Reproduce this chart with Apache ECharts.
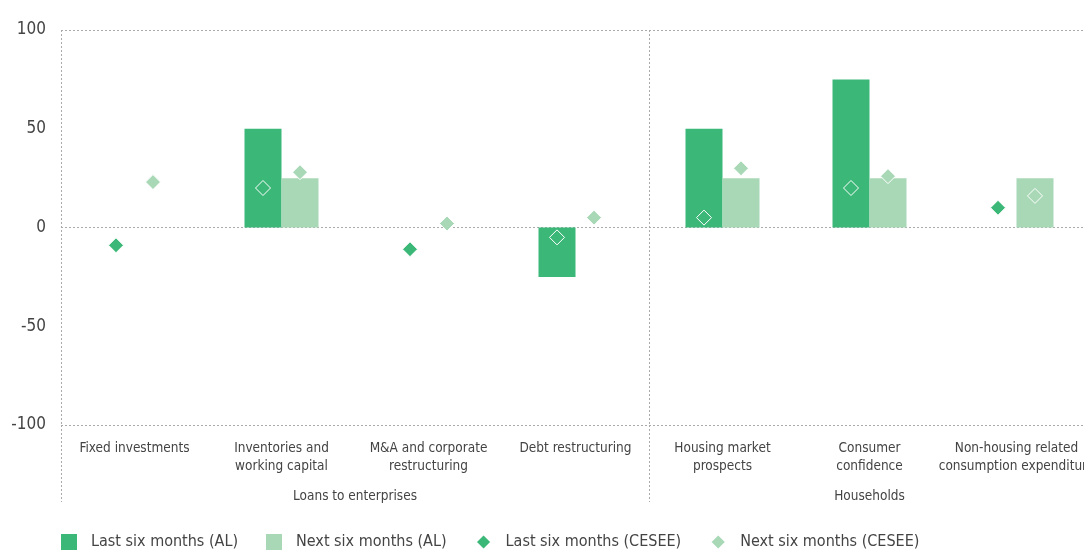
<!DOCTYPE html>
<html>
<head>
<meta charset="utf-8">
<script src="https://cdn.jsdelivr.net/npm/echarts@6/dist/echarts.min.js"></script>
<style>
  html, body { margin: 0; padding: 0; background: #fff; }
  #chart { width: 1084px; height: 554px; }
</style>
</head>
<body>
<div id="chart"></div>
<script>
// Categories and groups
const categories = [
    'Fixed investments',
    'Inventories and\nworking capital',
    'M&A and corporate\nrestructuring',
    'Debt restructuring',
    'Housing market\nprospects',
    'Consumer\nconfidence',
    'Non-housing related\nconsumption expenditure'
];
const groupNames = ['Loans to enterprises', 'Households'];
const groupCenters = [2, 5.5];   // in category units (0..7)
const groupBounds = [0, 4];      // category boundaries with a divider line

// Series values
const lastAL = [null, 50, null, -25, 50, 75, null];
const nextAL = [null, 25, null, null, 25, 25, 25];
const lastCESEE = [-9, 20, -11, -5, 5, 20, 10];
const nextCESEE = [23, 28, 2, 5, 30, 26, 16];

const FONT = "'DejaVu Sans Condensed', 'Liberation Sans Narrow', sans-serif";
const DARK = '#3bb878';
const LIGHT = '#a8d8b6';
const TEXT = '#444444';
const GRIDLINE = { color: '#aaaaaa', type: [2, 2], width: 1 };

const chart = echarts.init(document.getElementById('chart'));

const diamond = (name, data, color, offset) => ({
    name,
    type: 'scatter',
    data,
    symbol: 'diamond',
    symbolSize: 15,
    symbolOffset: [offset, 0],
    z: 5,
    itemStyle: { color, opacity: 1, borderColor: '#ffffff', borderWidth: 1 }
});

chart.setOption({
    animation: false,
    textStyle: { fontFamily: FONT },
    grid: { left: 61, right: -6, top: 30, bottom: 129, outerBoundsMode: 'none' },
    legend: {
        left: 56,
        top: 528,
        itemWidth: 16,
        itemHeight: 16,
        itemGap: 28,
        textStyle: { fontFamily: FONT, fontSize: 16, color: TEXT, padding: [0, 0, 0, 9] },
        data: [
            { name: 'Last six months (AL)', icon: 'rect' },
            { name: 'Next six months (AL)', icon: 'rect' },
            { name: 'Last six months (CESEE)', icon: 'diamond' },
            { name: 'Next six months (CESEE)', icon: 'diamond' }
        ]
    },
    xAxis: [{
        type: 'category',
        data: categories,
        axisLine: { show: false, onZero: false },
        axisTick: {
            show: true,
            interval: (i) => groupBounds.includes(i),
            length: 77,
            lineStyle: GRIDLINE
        },
        splitLine: {
            show: true,
            interval: (i) => groupBounds.includes(i),
            lineStyle: GRIDLINE
        },
        axisLabel: {
            interval: 0,
            margin: 14,
            fontFamily: FONT,
            fontSize: 13.5,
            lineHeight: 18,
            color: TEXT
        }
    }, {
        type: 'value',
        position: 'bottom',
        min: 0,
        max: categories.length,
        axisLine: { show: false, onZero: false },
        axisTick: { show: false },
        splitLine: { show: false },
        axisLabel: {
            customValues: groupCenters,
            margin: 62,
            fontFamily: FONT,
            fontSize: 13.5,
            lineHeight: 18,
            color: TEXT,
            formatter: (v) => groupNames[groupCenters.indexOf(v)]
        }
    }],
    yAxis: [{
        type: 'value',
        min: -100,
        max: 100,
        interval: 50,
        axisLine: { show: false },
        axisTick: { show: false },
        splitLine: { show: false },
        axisLabel: { margin: 15, fontFamily: FONT, fontSize: 17, color: TEXT }
    }, {
        type: 'value',
        min: -100,
        max: 100,
        interval: 100,
        axisLine: { show: false },
        axisTick: { show: false },
        axisLabel: { show: false },
        splitLine: { show: true, lineStyle: GRIDLINE }
    }],
    series: [
        {
            name: 'Last six months (AL)',
            type: 'bar',
            data: lastAL,
            barWidth: 37,
            barGap: '0%',
            itemStyle: { color: DARK }
        },
        {
            name: 'Next six months (AL)',
            type: 'bar',
            data: nextAL,
            barWidth: 37,
            barGap: '0%',
            itemStyle: { color: LIGHT }
        },
        diamond('Last six months (CESEE)', lastCESEE, DARK, -18.5),
        diamond('Next six months (CESEE)', nextCESEE, LIGHT, 18.5)
    ]
});
</script>
</body>
</html>
